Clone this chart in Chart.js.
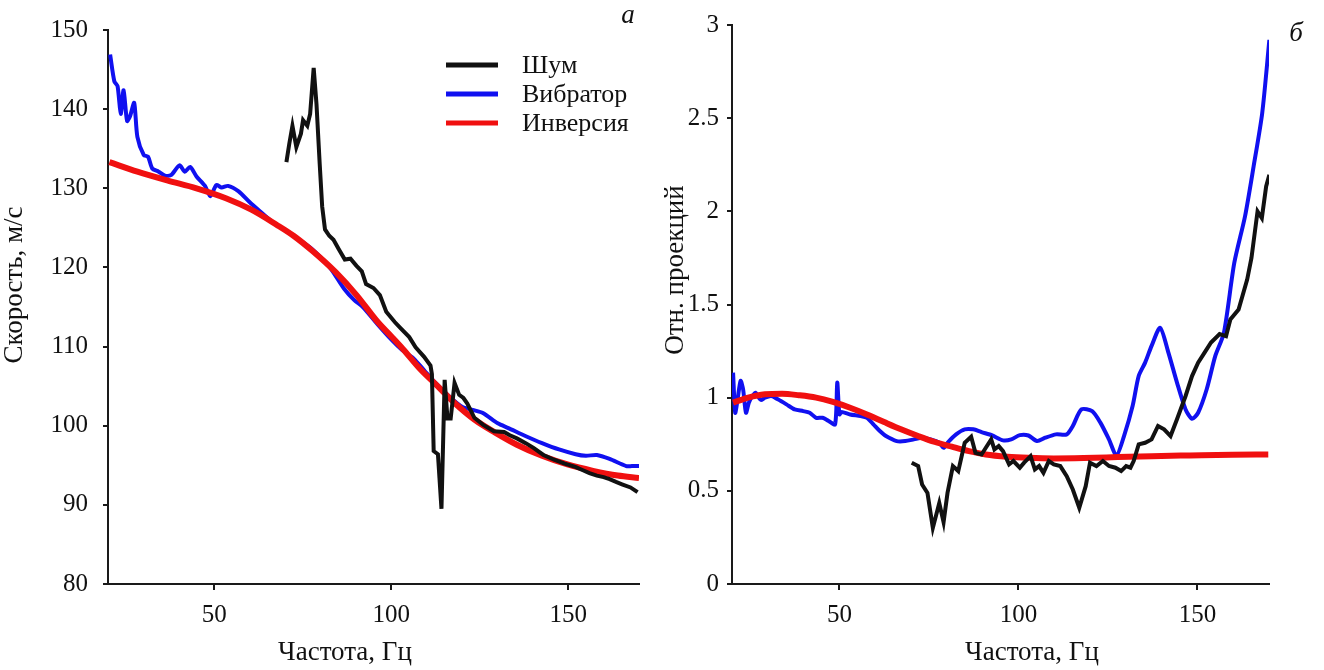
<!DOCTYPE html>
<html>
<head>
<meta charset="utf-8">
<script src="https://cdn.jsdelivr.net/npm/chart.js@4.4.0/dist/chart.umd.min.js"></script>
<style>
  html, body { margin: 0; padding: 0; background: #fff; }
  #wrap { position: relative; width: 1324px; height: 670px; }
  .panel { position: absolute; top: 0; width: 662px; height: 670px; }
</style>
</head>
<body>
<div id="wrap">
  <div class="panel" style="left:0"><canvas id="chartA" width="662" height="670"></canvas></div>
  <div class="panel" style="left:662px"><canvas id="chartB" width="662" height="670"></canvas></div>
</div>
<script>
// ---- panel a: velocity, m/s ----
const noiseFreqA = [70.4, 71.2, 72.1, 73.2, 74.5, 75.1, 76.3, 77.1, 78.1, 78.9, 79.8, 80.5, 81.3, 82.5, 83.7, 85.2, 86.9, 88.5, 90.2, 91.7, 92.9, 95.0, 96.8, 98.6, 101.0, 102.7, 105.1, 106.9, 109.3, 111.1, 111.5, 112.0, 113.2, 114.2, 115.1, 115.9, 116.8, 117.9, 119.2, 120.4, 121.5, 123.5, 126, 129, 131.9, 133.5, 135.5, 138, 140.2, 143, 146, 149, 152, 154, 156, 158.1, 160, 161.7, 163.5, 165.2, 167.6, 169.6]
const noiseVelA = [133.3, 135.6, 137.9, 135.2, 136.9, 138.6, 137.9, 139.4, 145.2, 140.6, 133.1, 127.7, 124.8, 124.0, 123.5, 122.3, 121.0, 121.1, 120.2, 119.5, 117.9, 117.4, 116.5, 114.4, 113.1, 112.3, 111.2, 109.9, 108.7, 107.6, 106.5, 96.8, 96.4, 89.5, 105.8, 100.9, 100.9, 105.4, 103.9, 103.5, 102.8, 101.0, 100.1, 99.3, 99.2, 98.8, 98.4, 97.8, 97.2, 96.3, 95.7, 95.2, 94.8, 94.4, 94.0, 93.7, 93.5, 93.25, 92.9, 92.6, 92.2, 91.6]

const vibFreqA = [20.6, 21.8, 22.7, 23.6, 24.4, 25.4, 26.3, 27.4, 28.3, 30.1, 31.3, 32.5, 34.3, 36.1, 37.9, 40.2, 41.7, 43.2, 45.0, 47.4, 48.9, 50.6, 52.1, 53.9, 56.9, 59.9, 62.9, 66, 70, 74, 77.7, 80, 83.0, 86.7, 89.5, 92.0, 96, 100, 103, 106.3, 109.3, 112.5, 116.4, 120, 123, 125.9, 130.1, 133.1, 137.9, 142.6, 147.4, 152.1, 155, 158.1, 161.7, 166.4, 168, 170]
const vibVelA = [146.9, 143.5, 142.9, 139.4, 142.4, 138.5, 139.2, 140.8, 136.5, 134.2, 134.0, 132.5, 132.1, 131.6, 131.7, 132.9, 132.1, 132.7, 131.5, 130.3, 129.0, 130.4, 130.1, 130.3, 129.6, 128.3, 127.1, 125.9, 124.7, 123.5, 122.3, 121.3, 119.8, 117.3, 115.9, 115.0, 112.9, 110.9, 109.6, 108.5, 107.0, 105.4, 103.7, 102.4, 102.0, 101.6, 100.3, 99.7, 98.7, 97.8, 97.0, 96.4, 96.2, 96.3, 95.8, 94.9, 94.9, 94.9]

const invFreqA = [20.4, 28.3, 36.7, 45.0, 53.3, 60.5, 67.6, 72.4, 77.7, 84.3, 90.2, 96.2, 100, 103.3, 108.1, 112.9, 117.6, 123.6, 129.5, 135.5, 142.6, 149.8, 157.0, 164.0, 170]
const invVelA = [133.3, 132.1, 131.0, 130.0, 128.75, 127.3, 125.4, 124.0, 122.1, 119.4, 116.5, 113.1, 111.3, 109.7, 107.2, 105.1, 103.0, 100.75, 99.1, 97.6, 96.2, 95.1, 94.3, 93.7, 93.4]

// ---- panel б: relative projections ----
const noiseFreqB = [70.2, 72.0, 73.1, 74.6, 76.1, 77.9, 79.1, 80.2, 81.7, 83.2, 85.0, 86.8, 88.0, 89.7, 90.9, 92.4, 93.3, 94.5, 95.7, 97.4, 98.6, 100.4, 101.6, 103.4, 104.6, 105.8, 107.0, 108.5, 109.9, 111.7, 113.5, 115.2, 117.0, 118.8, 120.0, 121.8, 123.6, 125.3, 127.1, 128.7, 130.1, 131.3, 132.2, 133.6, 135.4, 137.2, 139.0, 140.7, 142.5, 144.3, 146.7, 148.5, 150.2, 152.0, 153.8, 156.2, 158.0, 159.2, 161.5, 163.9, 165.1, 166.8, 168.0, 169.2, 170.1]
const noiseProjB = [0.651, 0.633, 0.534, 0.489, 0.301, 0.435, 0.332, 0.489, 0.633, 0.606, 0.758, 0.790, 0.704, 0.695, 0.731, 0.776, 0.722, 0.740, 0.713, 0.642, 0.660, 0.624, 0.651, 0.686, 0.615, 0.633, 0.597, 0.660, 0.642, 0.633, 0.579, 0.507, 0.409, 0.525, 0.651, 0.633, 0.660, 0.633, 0.624, 0.606, 0.633, 0.624, 0.660, 0.749, 0.758, 0.776, 0.848, 0.830, 0.794, 0.884, 1.009, 1.116, 1.188, 1.242, 1.296, 1.341, 1.330, 1.420, 1.473, 1.634, 1.75, 2.0, 1.964, 2.134, 2.196]

const vibFreqB = [20.3, 20.9, 21.5, 22.4, 23.1, 23.9, 24.7, 25.7, 26.6, 27.5, 28.1, 29.2, 31.0, 32.8, 35.2, 37.5, 39.9, 41.7, 43.5, 45.3, 47.0, 48.8, 49.4, 50.0, 50.6, 53.0, 55.9, 57.7, 59.5, 61.3, 63.0, 66.0, 68.4, 70.8, 73.1, 75.5, 77.9, 79.1, 80.2, 82.6, 85.0, 87.4, 89.7, 92.7, 95.7, 98.0, 100.4, 102.8, 105.2, 107.5, 110.5, 113.5, 115.2, 117.6, 120.6, 122.9, 125.3, 127.4, 129.5, 131.9, 133.6, 135.4, 137.2, 139.6, 141.9, 144.3, 146.7, 148.5, 150.2, 152.6, 155.0, 157.4, 160.3, 163.3, 165.7, 168.1, 170.1]
const vibProjB = [1.134, 0.919, 0.982, 1.09, 1.045, 0.919, 0.973, 1.009, 1.027, 1.0, 0.987, 1.0, 1.009, 0.991, 0.964, 0.937, 0.928, 0.919, 0.892, 0.892, 0.875, 0.857, 1.081, 0.91, 0.923, 0.91, 0.901, 0.892, 0.857, 0.821, 0.794, 0.767, 0.767, 0.776, 0.785, 0.776, 0.758, 0.731, 0.758, 0.803, 0.830, 0.830, 0.815, 0.797, 0.771, 0.776, 0.799, 0.797, 0.767, 0.785, 0.803, 0.803, 0.848, 0.937, 0.928, 0.866, 0.776, 0.690, 0.794, 0.955, 1.116, 1.188, 1.278, 1.375, 1.242, 1.081, 0.937, 0.887, 0.919, 1.045, 1.224, 1.348, 1.723, 1.973, 2.241, 2.527, 2.92]

const invFreqB = [20.3, 24.5, 29.2, 34.0, 38.7, 43.5, 48.2, 53.0, 57.7, 62.5, 67.2, 72.0, 76.7, 81.4, 86.2, 90.9, 96.9, 102.8, 109.9, 118.2, 127.7, 137.2, 147.9, 159.7, 169.8]
const invProjB = [0.973, 1.0, 1.018, 1.021, 1.013, 1.0, 0.977, 0.946, 0.910, 0.869, 0.830, 0.794, 0.762, 0.737, 0.713, 0.695, 0.683, 0.677, 0.674, 0.676, 0.681, 0.686, 0.690, 0.694, 0.695]

const seriesNames = ["Шум", "Вибратор", "Инверсия"]
const seriesColors = ["#111111", "#1010f0", "#f01010"]
const yTicksB = [0, 0.5, 1, 1.5, 2, 2.5, 3]
const xTicks = [50, 100, 150]

const pts = (xs, ys) => xs.map((x, i) => ({ x, y: ys[i] }))

const serif = '"Liberation Serif", "Times New Roman", serif'
const axisColor = "#1a1a1a"

// axis titles, panel letter and legend drawn in the canvas
const panelText = {
  id: "panelText",
  afterDraw(chart, args, o) {
    const ctx = chart.ctx
    ctx.save()
    ctx.fillStyle = "#111"
    ctx.textBaseline = "middle"
    ctx.textAlign = "center"
    ctx.font = "27px " + serif
    ctx.fillText(o.xTitle, o.xTitleX, o.xTitleY)
    ctx.save()
    ctx.translate(o.yTitleX, o.yTitleY)
    ctx.rotate(-Math.PI / 2)
    ctx.fillText(o.yTitle, 0, 0)
    ctx.restore()
    ctx.font = "italic 27px " + serif
    ctx.fillText(o.letter, o.letterX, o.letterY)
    if (o.legend) {
      ctx.textAlign = "left"
      ctx.font = "26px " + serif
      seriesNames.forEach((name, i) => {
        const y = 65 + i * 29
        ctx.strokeStyle = seriesColors[i]
        ctx.lineWidth = 5
        ctx.beginPath()
        ctx.moveTo(446, y)
        ctx.lineTo(498, y)
        ctx.stroke()
        ctx.fillStyle = "#111"
        ctx.fillText(name, 522, y + 1)
      })
    }
    ctx.restore()
  }
}

function makeDatasets(noise, vib, inv) {
  return [
    { label: seriesNames[0], data: noise, borderColor: seriesColors[0], borderWidth: 4, pointRadius: 0, tension: 0, order: 0 },
    { label: seriesNames[1], data: vib, borderColor: seriesColors[1], borderWidth: 4, pointRadius: 0, tension: 0.25, order: 2 },
    { label: seriesNames[2], data: inv, borderColor: seriesColors[2], borderWidth: 6, pointRadius: 0, cubicInterpolationMode: "monotone", order: 1 }
  ]
}

function makeOptions(cfg) {
  return {
    responsive: false,
    animation: false,
    devicePixelRatio: 1,
    layout: { padding: { left: 0, top: 25, right: cfg.padRight, bottom: 0 } },
    plugins: { legend: { display: false }, tooltip: { enabled: false }, panelText: cfg.text },
    scales: {
      x: {
        type: "linear",
        min: 20,
        max: 170,
        afterBuildTicks: s => { s.ticks = xTicks.map(v => ({ value: v })) },
        afterFit: s => { s.height = 86 },
        grid: { drawOnChartArea: false, drawTicks: true, tickLength: 6, color: axisColor, lineWidth: 2 },
        border: { display: true, color: axisColor, width: 2 },
        ticks: { color: "#111", font: { family: serif, size: 25 }, padding: 10, maxRotation: 0 }
      },
      y: {
        type: "linear",
        min: cfg.yMin,
        max: cfg.yMax,
        afterBuildTicks: s => { s.ticks = cfg.yTicks.map(v => ({ value: v })) },
        afterFit: s => { s.width = cfg.yWidth },
        grid: { drawOnChartArea: false, drawTicks: true, tickLength: 5, color: axisColor, lineWidth: 2 },
        border: { display: true, color: axisColor, width: 2 },
        ticks: { color: "#111", font: { family: serif, size: 25 }, padding: cfg.yPad, callback: v => String(v) }
      }
    }
  }
}

new Chart(document.getElementById("chartA").getContext("2d"), {
  type: "line",
  data: { datasets: makeDatasets(pts(noiseFreqA, noiseVelA), pts(vibFreqA, vibVelA), pts(invFreqA, invVelA)) },
  options: makeOptions({
    padRight: 23, yMin: 80, yMax: 150, yWidth: 108, yPad: 15,
    yTicks: [80, 90, 100, 110, 120, 130, 140, 150],
    text: { xTitle: "Частота, Гц", xTitleX: 345, xTitleY: 653, yTitle: "Скорость, м/с", yTitleX: 15, yTitleY: 285, letter: "а", letterX: 628, letterY: 16, legend: true }
  }),
  plugins: [panelText]
})

new Chart(document.getElementById("chartB").getContext("2d"), {
  type: "line",
  data: { datasets: makeDatasets(pts(noiseFreqB, noiseProjB), pts(vibFreqB, vibProjB), pts(invFreqB, invProjB)) },
  options: makeOptions({
    padRight: 55, yMin: 0, yMax: 3, yWidth: 70, yPad: 8,
    yTicks: yTicksB,
    text: { xTitle: "Частота, Гц", xTitleX: 370, xTitleY: 653, yTitle: "Отн. проекций", yTitleX: 14, yTitleY: 270, letter: "б", letterX: 634, letterY: 34, legend: false }
  }),
  plugins: [panelText]
})
</script>
</body>
</html>
